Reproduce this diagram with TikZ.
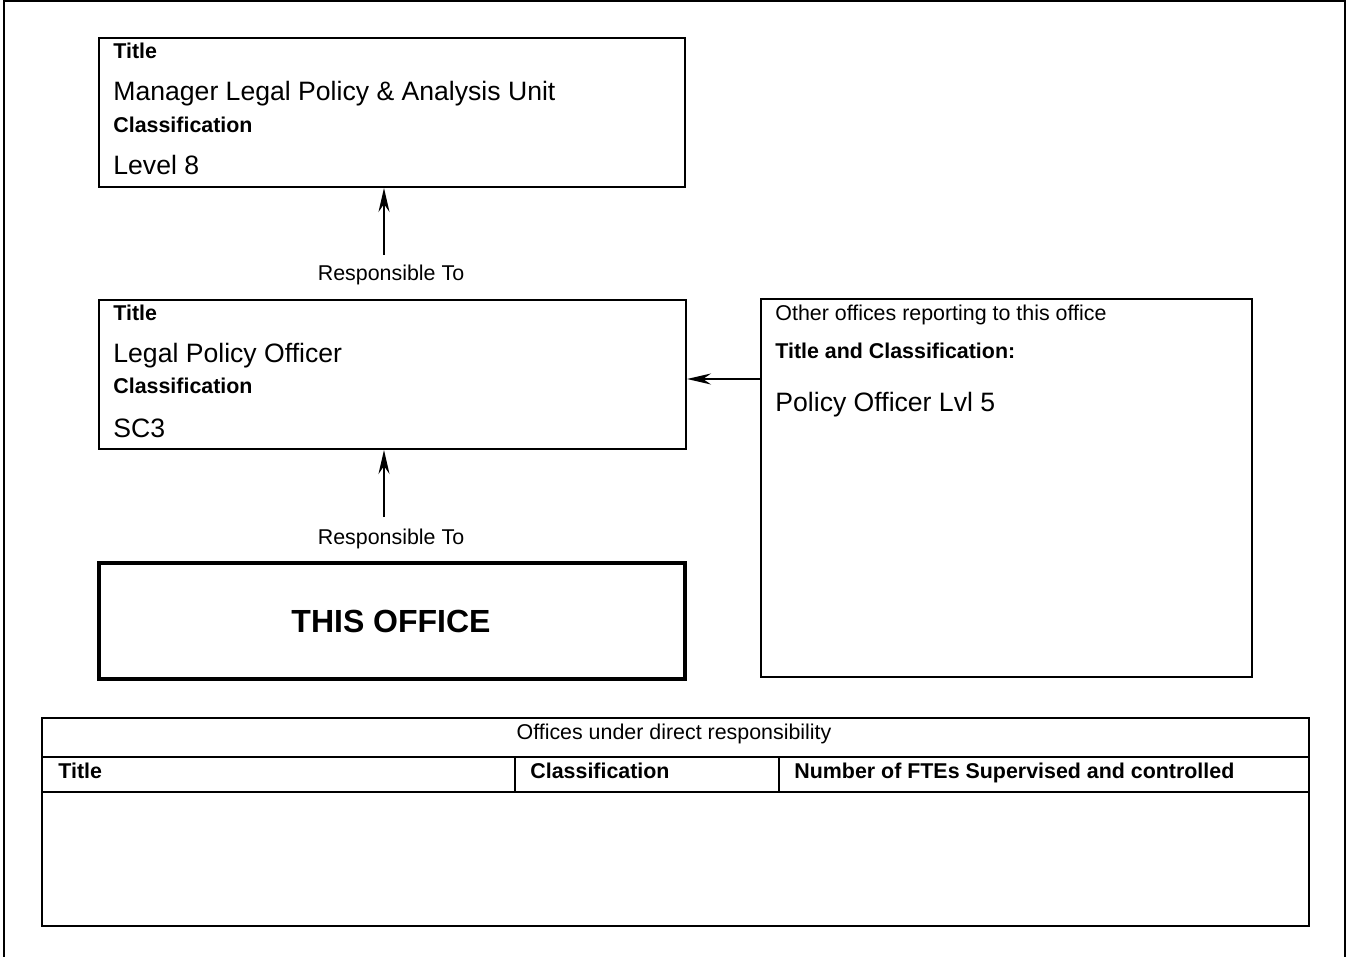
\documentclass[tikz,border=0pt]{standalone}
\usepackage{fontspec}
\setmainfont{Liberation Sans}
\usetikzlibrary{arrows.meta}
\begin{document}
\begin{tikzpicture}[x=0.5pt,y=-0.5pt,
  box/.style={draw,line width=1pt,rectangle,inner sep=0pt},
  thickbox/.style={draw,line width=2pt,rectangle,inner sep=0pt},
  arr/.style={line width=1pt,-{Stealth[length=12pt,width=5.5pt,inset=4pt]}},
  lbl/.style={anchor=base west,inner sep=0pt,font=\fontsize{10.7}{12}\selectfont\bfseries},
  big/.style={anchor=base west,inner sep=0pt,font=\fontsize{13.3}{15}\selectfont},
  small/.style={inner sep=0pt,font=\fontsize{10.7}{12}\selectfont}]
\useasboundingbox (0,0) rectangle (1349,957);
% outer frame
\draw[line width=1pt] (4,957) -- (4,1) -- (1345,1) -- (1345,957);
% box 1
\node[box,minimum width=293pt,minimum height=74.5pt] (b1) at (392,112.5) {};
\node[lbl] (b1t) at (113,58.7) {Title};
\node[big] (b1n) at (113,100.5) {Manager Legal Policy \& Analysis Unit};
\node[lbl] (b1c) at (113,132.7) {Classification};
\node[big] (b1l) at (113,174.5) {Level 8};
% box 2
\node[box,minimum width=293.5pt,minimum height=74.5pt] (b2) at (392.5,374.5) {};
\node[lbl] (b2t) at (113,320.7) {Title};
\node[big] (b2n) at (113,362.5) {Legal Policy Officer};
\node[lbl] (b2c) at (113,393.7) {Classification};
\node[big] (b2l) at (113,437.5) {SC3};
% this office
\node[thickbox,minimum width=293pt,minimum height=58pt] (b3) at (392,621) {};
\node[inner sep=0pt,anchor=base,font=\fontsize{16}{18}\selectfont\bfseries] (b3t) at (391,632.5) {THIS OFFICE};
% arrows
\coordinate (a1s) at (384,255);
\draw[arr] (a1s) -- (a1s |- b1.south);
\node[small,anchor=base] (r1) at (391,280.7) {Responsible To};
\coordinate (a2s) at (384,517);
\draw[arr] (a2s) -- (a2s |- b2.south);
\node[small,anchor=base] (r2) at (391,544.7) {Responsible To};
% other offices box
\node[box,minimum width=245.5pt,minimum height=189pt] (ob) at (1006.5,488) {};
\node[small,anchor=base west] (obt) at (775,320.7) {Other offices reporting to this office};
\node[lbl] (obc) at (775,358.7) {Title and Classification:};
\node[big] (obp) at (775,411.5) {Policy Officer Lvl 5};
\coordinate (a3s) at (761,379);
\draw[arr] (a3s) -- (a3s -| b2.east);
% table
\node[box,minimum width=633.5pt,minimum height=104pt] (tb) at (675.5,822) {};
\draw[line width=1pt] (tb.west |- 0,757) -- (tb.east |- 0,757);
\draw[line width=1pt] (tb.west |- 0,792) -- (tb.east |- 0,792);
\draw[line width=1pt] (515,757) -- (515,792);
\draw[line width=1pt] (779,757) -- (779,792);
\node[small,anchor=base] (th) at (674,739.7) {Offices under direct responsibility};
\node[lbl] (c1) at (58,778.7) {Title};
\node[lbl] (c2) at (530,778.7) {Classification};
\node[lbl] (c3) at (794,778.7) {Number of FTEs Supervised and controlled};
\end{tikzpicture}
\end{document}
